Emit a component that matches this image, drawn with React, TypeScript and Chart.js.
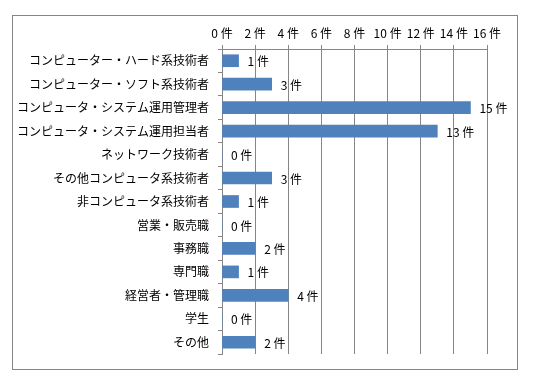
import React, { useEffect, useRef } from "react";
import { Chart, registerables } from "chart.js";

Chart.register(...registerables);

const categories = [
  "コンピューター・ハード系技術者",
  "コンピューター・ソフト系技術者",
  "コンピュータ・システム運用管理者",
  "コンピュータ・システム運用担当者",
  "ネットワーク技術者",
  "その他コンピュータ系技術者",
  "非コンピュータ系技術者",
  "営業・販売職",
  "事務職",
  "専門職",
  "経営者・管理職",
  "学生",
  "その他",
];
const counts = [1, 3, 15, 13, 0, 3, 1, 0, 2, 1, 4, 0, 2];
const unit = "件";

const FONT = "'Noto Sans CJK JP', 'Noto Sans', sans-serif";
const GRAY = "#868686";

const framePlugin = {
  id: "frame",
  beforeDraw(chart: any) {
    const ctx = chart.ctx;
    ctx.save();
    ctx.fillStyle = "#ffffff";
    ctx.fillRect(0, 0, chart.width, chart.height);
    ctx.strokeStyle = GRAY;
    ctx.lineWidth = 1;
    ctx.strokeRect(12.5, 15.5, 505, 354);
    ctx.restore();
  },
};

const labelPlugin = {
  id: "valueLabels",
  afterDatasetsDraw(chart: any) {
    const ctx = chart.ctx;
    const meta = chart.getDatasetMeta(0);
    const data = chart.data.datasets[0].data;
    ctx.save();
    ctx.font = `12px ${FONT}`;
    ctx.fillStyle = "#000000";
    ctx.textAlign = "left";
    ctx.textBaseline = "middle";
    meta.data.forEach((el: any, i: number) => {
      ctx.fillText(`${data[i]} ${unit}`, el.x + 9, el.y + 1);
    });
    ctx.restore();
  },
};

export default function App() {
  const ref = useRef<HTMLCanvasElement | null>(null);
  useEffect(() => {
    if (!ref.current) return;
    const chart = new Chart(ref.current, {
      type: "bar",
      data: {
        labels: categories,
        datasets: [
          {
            data: counts,
            backgroundColor: "#4F81BD",
            borderWidth: 0,
            barThickness: 12,
          },
        ],
      },
      options: {
        indexAxis: "y",
        animation: false,
        responsive: false,
        maintainAspectRatio: false,
        layout: { padding: { left: 0, top: 0, right: 48, bottom: 31 } },
        plugins: { legend: { display: false }, tooltip: { enabled: false } },
        scales: {
          x: {
            position: "top",
            min: 0,
            max: 16,
            afterFit: (s: any) => {
              s.height = 49;
            },
            ticks: {
              stepSize: 2,
              padding: 4,
              maxRotation: 0,
              minRotation: 0,
              autoSkip: false,
              color: "#000000",
              font: { family: FONT, size: 12 },
              callback: (v: any) => `${v} ${unit}`,
            },
            grid: { color: GRAY, tickLength: 4, drawTicks: true },
            border: { display: true, color: GRAY },
          },
          y: {
            afterFit: (s: any) => {
              s.width = 222;
            },
            ticks: {
              padding: 9,
              autoSkip: false,
              color: "#000000",
              font: { family: FONT, size: 12 },
            },
            grid: {
              offset: true,
              drawOnChartArea: false,
              drawTicks: true,
              tickLength: 4,
              color: GRAY,
            },
            border: { display: true, color: GRAY },
          },
        },
      },
      plugins: [framePlugin, labelPlugin],
    });
    return () => chart.destroy();
  }, []);
  return (
    <div style={{ position: "absolute", left: 0, top: 0, width: 535, height: 385 }}>
      <canvas ref={ref} width={535} height={385} style={{ display: "block" }} />
    </div>
  );
}
